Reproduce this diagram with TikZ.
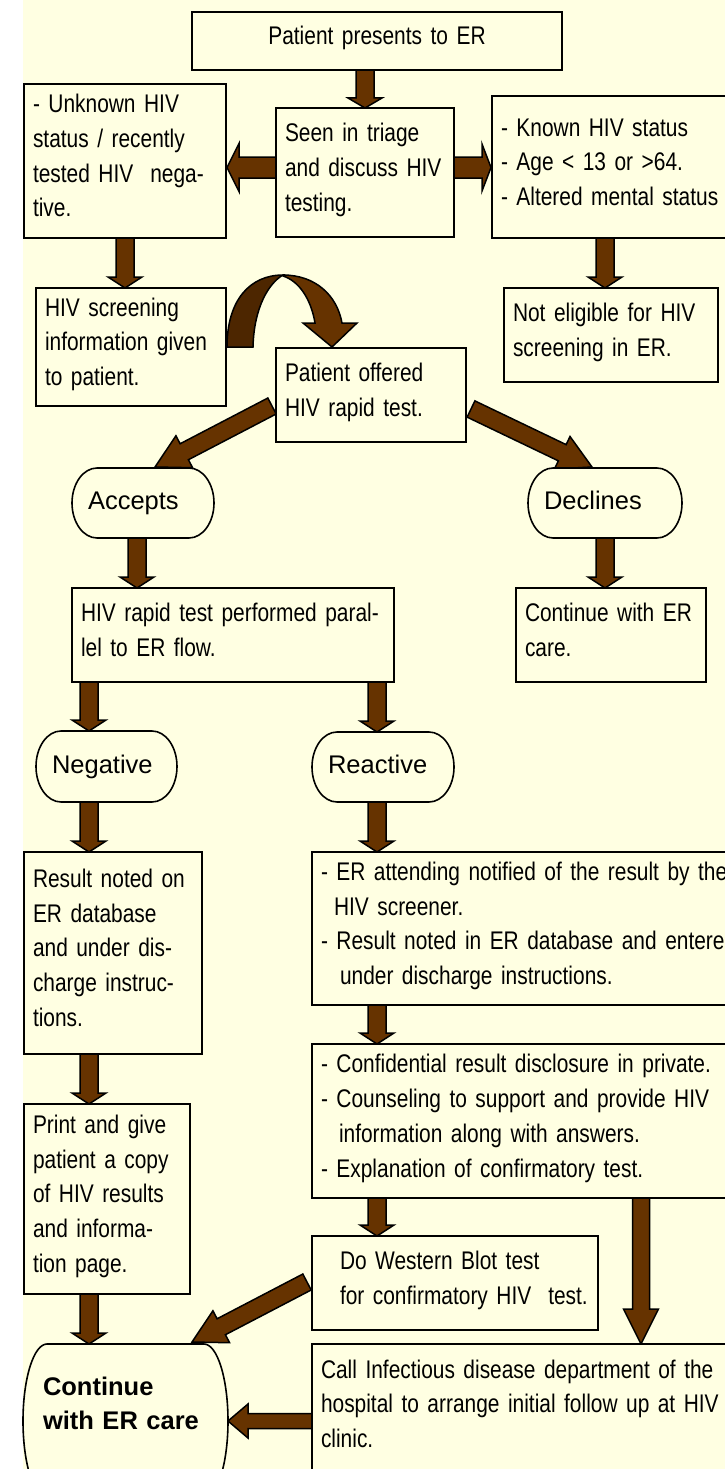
\documentclass[tikz,border=0pt]{standalone}
\usepackage{fontspec}
\setmainfont[FakeStretch=0.82]{Liberation Sans}
\newfontfamily\widefont{Liberation Sans}
\usetikzlibrary{calc}
\definecolor{bgc}{RGB}{255,255,226}
\definecolor{brownc}{RGB}{102,51,0}
\definecolor{darkbrown}{RGB}{77,38,0}
\pgfdeclarelayer{bglayer}
\pgfdeclarelayer{arrowlayer}
\pgfdeclarelayer{termlayer}
\pgfsetlayers{bglayer,arrowlayer,termlayer,main}

\newcommand\lines[1]{\begin{tabular}{@{}l@{}}#1\\[6pt]\end{tabular}}
\newcommand\tlines[1]{\begin{tabular}{@{}l@{}}#1\end{tabular}}

\tikzset{
  every node/.style={font=\fontsize{25.5}{34.7}\selectfont},
  flowbox/.style={draw=black, line width=2pt, fill=bgc, inner xsep=9pt, inner ysep=0pt, outer sep=0pt, align=left, anchor=north west},
  termnode/.style={draw=none, inner xsep=16pt, inner ysep=0pt, outer sep=0pt, align=left, anchor=north west, font=\fontsize{25.5}{34.7}\selectfont\widefont},
  termline/.style={draw=black, line width=1.6pt, fill=bgc},
  blockarrow/.style={draw=black, line width=1.5pt, fill=brownc, line join=miter},
}

% box node: name, x0, y0, x1, y1, text
\newcommand\boxn[7][]{%
  \pgfmathsetmacro\bxW{#5-#3}\pgfmathsetmacro\bxH{#6-#4}\pgfmathsetmacro\bxT{#5-#3-18}%
  \node[flowbox, text width=\bxT pt, minimum width=\bxW pt, minimum height=\bxH pt, #1] (#2) at (#3,#4) {\lines{#7}};}

% terminal: name, x0, y0, x1, y1, rx, text
\newcommand\term[8][]{%
  \pgfmathsetmacro\bxW{#5-#3}\pgfmathsetmacro\bxH{#6-#4}\pgfmathsetmacro\bxT{#5-#3-32}%
  \node[termnode, text width=\bxT pt, minimum width=\bxW pt, minimum height=\bxH pt, #1] (#2) at (#3,#4) {#8};
  \pgfmathsetmacro\tmYm{(#4+#6)/2}\pgfmathsetmacro\tmRy{(#6-#4)/2}%
  \pgfmathsetmacro\tmKa{#3+#7}\pgfmathsetmacro\tmKb{#5-#7}%
  \pgfmathsetmacro\tmKc{0.5523*#7}\pgfmathsetmacro\tmKd{0.5523*\tmRy}%
  \begin{pgfonlayer}{termlayer}
  \draw[termline] (\tmKa,#4) -- (\tmKb,#4) .. controls ({\tmKb+\tmKc},#4) and (#5,{\tmYm-\tmKd}) .. (#5,\tmYm)
     .. controls (#5,{\tmYm+\tmKd}) and ({\tmKb+\tmKc},#6) .. (\tmKb,#6) -- (\tmKa,#6)
     .. controls ({\tmKa-\tmKc},#6) and (#3,{\tmYm+\tmKd}) .. (#3,\tmYm)
     .. controls (#3,{\tmYm-\tmKd}) and ({\tmKa-\tmKc},#4) .. cycle;
  \end{pgfonlayer}}

% block arrow: from, to, shaft half width, head half width, head length
\newcommand\barrow[6][]{%
  \coordinate (ba-s) at #2; \coordinate (ba-e) at #3;
  \coordinate (ba-h) at ($(ba-e)!#6!(ba-s)$);
  \draw[blockarrow,#1] ($(ba-s)!#4!90:(ba-e)$) -- ($(ba-h)!#4!90:(ba-e)$) -- ($(ba-h)!#5!90:(ba-e)$) -- (ba-e)
     -- ($(ba-h)!#5!-90:(ba-e)$) -- ($(ba-h)!#4!-90:(ba-e)$) -- ($(ba-s)!#4!-90:(ba-e)$) -- cycle;}

\begin{document}
\begin{tikzpicture}[x=1pt,y=-1pt]
\useasboundingbox (0,0) rectangle (725,1469);
\begin{pgfonlayer}{bglayer}
\fill[white] (0,0) rectangle (23,1469);
\fill[bgc] (23,0) rectangle (725,1469);
\end{pgfonlayer}

\coordinate (colL) at (89,0);
\coordinate (colA) at (137,0);
\coordinate (colM) at (377,0);
\coordinate (colR) at (605,0);
\coordinate (colR2) at (641,0);

\boxn[align=center]{top}{192}{12}{562}{70}{Patient presents to ER}
\boxn{unk}{24}{84}{226}{238}{- Unknown HIV\\status / recently\\tested HIV~ nega-\\tive.}
\boxn{tri}{276}{108}{454}{237}{Seen in triage\\and discuss HIV\\testing.}
\boxn{known}{492}{96}{740}{238}{- Known HIV status\\- Age < 13 or >64.\\- Altered mental status}
\boxn{scr}{36}{288}{226}{406}{HIV screening\\information given\\to patient.}
\boxn{notel}{504}{288}{718}{382}{Not eligible for HIV\\screening in ER.}
\boxn{offer}{276}{348}{466}{442}{Patient offered\\HIV rapid test.}
\term{acc}{72}{468}{214}{538}{25}{\tlines{Accepts}}
\term{dec}{528}{468}{682}{538}{25}{\tlines{Declines}}
\boxn{rapid}{72}{588}{394}{682}{HIV rapid test performed paral-\\lel to ER flow.}
\boxn{cont1}{516}{588}{706}{682}{Continue with ER\\care.}
\term{neg}{36}{731}{177}{802}{25}{\tlines{Negative}}
\term{rea}{312}{732}{454}{802}{25}{\tlines{Reactive}}
\boxn{res}{24}{852}{202}{1054}{Result noted on\\ER database\\and under dis-\\charge instruc-\\tions.}
\boxn{att}{312}{852}{740}{1005}{- ER attending notified of the result by the\\\hspace{13pt}HIV screener.\\- Result noted in ER database and entered\\\hspace{19pt}under discharge instructions.}
\boxn{conf}{312}{1044}{740}{1198}{- Confidential result disclosure in private.\\- Counseling to support and provide HIV\\\hspace{18pt}information along with answers.\\- Explanation of confirmatory test.}
\boxn{print}{24}{1104}{190}{1294}{Print and give\\patient a copy\\of HIV results\\and informa-\\tion page.}
\boxn{wb}{312}{1236}{598}{1330}{\hspace{19pt}Do Western Blot test\\\hspace{19pt}for confirmatory HIV~ test.}
\boxn{call}{312}{1344}{740}{1474}{Call Infectious disease department of the\\hospital to arrange initial follow up at HIV\\clinic.}
\term[font=\fontsize{25.5}{34.7}\selectfont\widefont\bfseries]{cont2}{23}{1344}{228}{1498}{24}{\begin{tabular}{@{}l@{}}\hspace{4pt}Continue\\\hspace{4pt}with ER care\\[31pt]\end{tabular}}

\begin{pgfonlayer}{arrowlayer}
% vertical arrows
\barrow{(tri.north |- top.south)}{(tri.north)}{9pt}{17pt}{10pt}
\barrow{(unk.south)}{(unk.south |- scr.north)}{9pt}{17pt}{11pt}
\barrow{(colR |- known.south)}{(colR |- notel.north)}{9pt}{17pt}{11pt}
\barrow{(colA |- acc.south)}{(colA |- rapid.north)}{9pt}{17pt}{11pt}
\barrow{(dec.south)}{(dec.south |- cont1.north)}{9pt}{17pt}{11pt}
\barrow{(colL |- rapid.south)}{(colL |- neg.north)}{9pt}{17pt}{11pt}
\barrow{(colM |- rapid.south)}{(colM |- rea.north)}{9pt}{17pt}{11pt}
\barrow{(colL |- neg.south)}{(colL |- res.north)}{9pt}{17pt}{11pt}
\barrow{(colM |- rea.south)}{(colM |- att.north)}{9pt}{17pt}{11pt}
\barrow{(colM |- att.south)}{(colM |- conf.north)}{9pt}{17pt}{11pt}
\barrow{(colL |- res.south)}{(colL |- print.north)}{9pt}{17pt}{11pt}
\barrow{(colM |- conf.south)}{(colM |- wb.north)}{9pt}{17pt}{11pt}
\barrow{(colL |- print.south)}{(colL |- cont2.north)}{9pt}{17pt}{11pt}
\barrow{(colR2 |- conf.south)}{(colR2 |- call.north)}{8.5pt}{17.5pt}{35pt}
% horizontal arrows
\barrow{($(tri.west)+(0,-5)$)}{($(tri.west -| unk.east)+(1,-5)$)}{10.5pt}{24pt}{12pt}
\barrow{($(tri.east)+(0,-5)$)}{($(tri.east -| known.west)+(-1,-5)$)}{10.5pt}{23.5pt}{9pt}
\barrow{(cont2.east -| call.west)}{(cont2.east)}{7.5pt}{17pt}{20pt}
% diagonal arrows
\barrow{($(offer.south west)+(-4,-36)$)}{($(acc.north west)+(83,-1)$)}{9pt}{18pt}{33pt}
\barrow{($(offer.south east)+(5,-33)$)}{($(dec.north west)+(64,-1)$)}{9pt}{18pt}{33pt}
\barrow{($(wb.south west)+(-5,-48)$)}{($(cont2.north west)+(169,-2)$)}{9pt}{18pt}{33pt}
% curved arrow from screening info to offer
\coordinate (cs) at ($(scr.north east)+(1,59)$);
\begin{scope}[shift={(cs)}]
\draw[blockarrow, fill=darkbrown] (0,0) .. controls (0,-47) and (23,-72) .. (56,-72)
   .. controls (42,-64) and (27,-40) .. (26,0) -- cycle;
\draw[blockarrow] (56,-72) .. controls (88,-72) and (110,-52) .. (115,-24) -- (130,-24) -- (105,0)
   -- (76,-24) -- (88,-24) .. controls (84,-48) and (72,-66) .. (56,-71) -- cycle;
\end{scope}
\end{pgfonlayer}
\end{tikzpicture}
\end{document}
